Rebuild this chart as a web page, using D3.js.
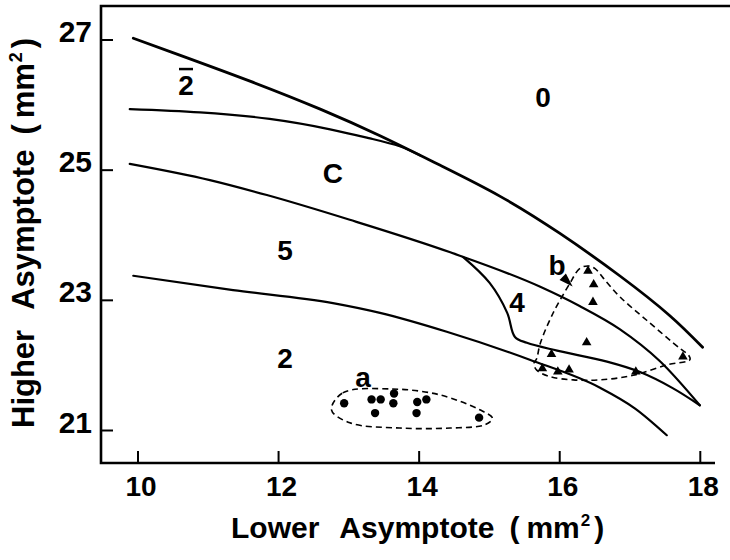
<!DOCTYPE html>
<html>
<head>
<meta charset="utf-8">
<script src="https://cdn.jsdelivr.net/npm/d3@7/dist/d3.min.js"></script>
<style>
  html, body { margin: 0; padding: 0; background: #fff; }
  svg { display: block; }
  text { font-family: "Liberation Sans", Arial, Helvetica, sans-serif; font-weight: bold; fill: #000; }
</style>
</head>
<body>
<svg id="chart" width="730" height="560"></svg>
<script>
// ---- data (Lower asymptote x, Higher asymptote y, mm^2) ----
const xTicks = [10, 12, 14, 16, 18];
const yTicks = [21, 23, 25, 27];

const curveTopX = [9.94, 10.60, 11.60, 12.60, 13.45, 14.30, 15.16, 16.01, 16.86, 17.57, 18.04];
const curveTopY = [27.02, 26.76, 26.36, 25.93, 25.52, 25.07, 24.59, 24.02, 23.37, 22.76, 22.27];

const curveCX = [9.89, 10.89, 11.88, 12.74, 13.31, 13.73, 14.02];
const curveCY = [25.93, 25.88, 25.78, 25.62, 25.48, 25.36, 25.22];

const curveMidX = [9.89, 11.03, 11.84, 13.02, 14.45, 15.73, 16.29, 16.86, 17.43, 18.00];
const curveMidY = [25.09, 24.84, 24.61, 24.23, 23.73, 23.20, 22.905, 22.55, 22.06, 21.38];

const curve4X = [14.63, 15.01, 15.26, 15.37, 15.54, 15.97, 16.68, 17.15, 17.62, 18.00];
const curve4Y = [23.66, 23.26, 22.80, 22.43, 22.34, 22.22, 22.05, 21.89, 21.64, 21.38];

const curveLowX = [9.94, 11.36, 12.78, 13.45, 14.40, 15.58, 16.58, 17.08, 17.53];
const curveLowY = [23.37, 23.15, 22.95, 22.80, 22.51, 22.08, 21.65, 21.33, 20.92];

// group a (dots)
const groupAX = [12.94, 13.33, 13.46, 13.65, 13.64, 13.98, 14.11, 13.38, 13.97, 14.86];
const groupAY = [21.41, 21.47, 21.47, 21.56, 21.41, 21.43, 21.47, 21.26, 21.26, 21.19];

// group b (triangles)
const groupBX = [16.41, 16.49, 16.48, 16.39, 15.89, 15.76, 15.98, 16.14, 17.09, 17.76];
const groupBY = [23.46, 23.25, 22.98, 22.36, 22.18, 21.96, 21.91, 21.94, 21.91, 22.14];

// dashed envelopes
const hullAX = [12.76, 12.92, 13.63, 14.30, 14.87, 15.05, 14.94, 14.45, 13.73, 13.02];
const hullAY = [21.31, 21.57, 21.63, 21.54, 21.31, 21.18, 21.08, 21.03, 21.03, 21.11];

const hullBX = [16.41, 16.29, 16.15, 15.91, 15.73, 15.68, 15.64, 15.68, 15.87, 16.20, 16.58, 17.05, 17.53, 17.86, 17.84, 17.72, 17.24, 16.86, 16.63, 16.51];
const hullBY = [23.52, 23.48, 23.25, 22.79, 22.33, 22.10, 22.02, 21.92, 21.82, 21.77, 21.77, 21.84, 22.00, 22.08, 22.15, 22.25, 22.69, 23.05, 23.33, 23.48];

// arrow marker near label b
const arrowBX = [16.11];
const arrowBY = [23.29];

// region labels
const regionText = ["0", "2", "C", "5", "2", "4", "a", "b"];
const regionBar  = [false, true, false, false, false, false, false, false];
const regionX = [15.77, 10.69, 12.78, 12.10, 12.10, 15.40, 13.21, 15.97];
const regionY = [26.12, 26.30, 24.95, 23.76, 22.11, 22.97, 21.81, 23.53];

// ---- layout ----
const svg = d3.select("#chart");
const x = d3.scaleLinear().domain([10, 18]).range([137.5, 699.8]);
const y = d3.scaleLinear().domain([21, 27]).range([430, 39.5]);

const frameLeft = x.invert(101), frameRight = x.invert(715), frameTopRight = x.invert(730);
const frameBottom = y.invert(463), frameTop = y.invert(6);

const zip = (xs, ys) => xs.map((v, i) => [v, ys[i]]);

// frame
svg.append("path")
  .attr("d", `M${x(frameTopRight)},${y(frameTop)} H${x(frameLeft)} V${y(frameBottom)} H${x(frameRight)}`)
  .attr("fill", "none").attr("stroke", "#000").attr("stroke-width", 2.6);

// x axis
const gx = svg.append("g").attr("transform", `translate(0,${y(frameBottom)})`)
  .call(d3.axisBottom(x).tickValues(xTicks).tickSizeInner(-12).tickSizeOuter(0).tickFormat(d3.format("d")));
gx.select(".domain").remove();
gx.selectAll(".tick line").attr("stroke", "#000").attr("stroke-width", 2);
gx.selectAll(".tick text").attr("y", 33).attr("dy", 0).attr("dx", 3)
  .style("font-size", "28px").attr("fill", "#000");

// y axis
const gy = svg.append("g").attr("transform", `translate(${x(frameLeft)},0)`)
  .call(d3.axisLeft(y).tickValues(yTicks).tickSizeInner(-12).tickSizeOuter(0).tickFormat(d3.format("d")));
gy.select(".domain").remove();
gy.selectAll(".tick line").attr("stroke", "#000").attr("stroke-width", 2);
gy.selectAll(".tick text").attr("x", -9).attr("dy", 2)
  .style("font-size", "30px").attr("fill", "#000");

// axis titles
const xt = svg.append("text").attr("x", 231).attr("y", 538).style("font-size", "30px");
xt.append("tspan").text("Lower");
xt.append("tspan").attr("dx", 20).text("Asymptote");
xt.append("tspan").attr("dx", 15).text("(");
xt.append("tspan").attr("dx", 7).text("mm");
xt.append("tspan").attr("dy", -12).attr("dx", 1).style("font-size", "17px").text("2");
xt.append("tspan").attr("dy", 12).attr("dx", 4).text(")");

const yt = svg.append("text").attr("transform", "translate(34,428) rotate(-90)").style("font-size", "31px");
yt.append("tspan").text("Higher");
yt.append("tspan").attr("dx", 20).text("Asymptote");
yt.append("tspan").attr("dx", 15).text("(");
yt.append("tspan").attr("dx", 6).text("mm");
yt.append("tspan").attr("dy", -12).attr("dx", 1).style("font-size", "18px").text("2");
yt.append("tspan").attr("dy", 12).attr("dx", 4).text(")");

// curves
const natural = d3.line().x(d => x(d[0])).y(d => y(d[1])).curve(d3.curveNatural);
const smooth = d3.line().x(d => x(d[0])).y(d => y(d[1])).curve(d3.curveMonotoneX);
const sharp = d3.line().x(d => x(d[0])).y(d => y(d[1])).curve(d3.curveCatmullRom.alpha(0.5));
const curves = [
  { pts: zip(curveTopX, curveTopY), w: 2.8, gen: natural },
  { pts: zip(curveCX, curveCY), w: 2.2, gen: natural },
  { pts: zip(curveMidX, curveMidY), w: 2.2, gen: smooth },
  { pts: zip(curve4X, curve4Y), w: 2.2, gen: sharp },
  { pts: zip(curveLowX, curveLowY), w: 2.2, gen: smooth }
];
svg.append("g").selectAll("path").data(curves).join("path")
  .attr("d", d => d.gen(d.pts))
  .attr("fill", "none").attr("stroke", "#000")
  .attr("stroke-width", d => d.w).attr("stroke-linecap", "round").attr("stroke-linejoin", "round");

// dashed envelopes
const closed = d3.line().x(d => x(d[0])).y(d => y(d[1])).curve(d3.curveCatmullRomClosed.alpha(0.5));
svg.append("g").selectAll("path").data([zip(hullAX, hullAY), zip(hullBX, hullBY)]).join("path")
  .attr("d", d => closed(d))
  .attr("fill", "none").attr("stroke", "#000").attr("stroke-width", 1.6)
  .attr("stroke-dasharray", "6,4");

// group a dots
svg.append("g").selectAll("circle").data(zip(groupAX, groupAY)).join("circle")
  .attr("cx", d => x(d[0])).attr("cy", d => y(d[1])).attr("r", 4.2).attr("fill", "#000");

// group b triangles
const tri = d3.symbol().type(d3.symbolTriangle).size(40);
svg.append("g").selectAll("path").data(zip(groupBX, groupBY)).join("path")
  .attr("transform", d => `translate(${x(d[0])},${y(d[1]) + 1})`)
  .attr("d", tri).attr("fill", "#000");

// arrow head near b
svg.append("g").selectAll("path").data(zip(arrowBX, arrowBY)).join("path")
  .attr("transform", d => `translate(${x(d[0])},${y(d[1])}) rotate(135)`)
  .attr("d", "M0,-8 L4.5,6 L-4.5,6 Z").attr("fill", "#000");

// region labels
const labels = svg.append("g").selectAll("g")
  .data(regionText.map((t, i) => ({ t, bar: regionBar[i], px: x(regionX[i]), py: y(regionY[i]) })))
  .join("g").attr("transform", d => `translate(${d.px},${d.py})`);
labels.append("text").attr("text-anchor", "middle").attr("dy", "0.36em")
  .style("font-size", "28px").text(d => d.t);
labels.filter(d => d.bar).append("line")
  .attr("x1", -7).attr("x2", 7).attr("y1", -16).attr("y2", -16)
  .attr("stroke", "#000").attr("stroke-width", 2.5);
</script>
</body>
</html>
